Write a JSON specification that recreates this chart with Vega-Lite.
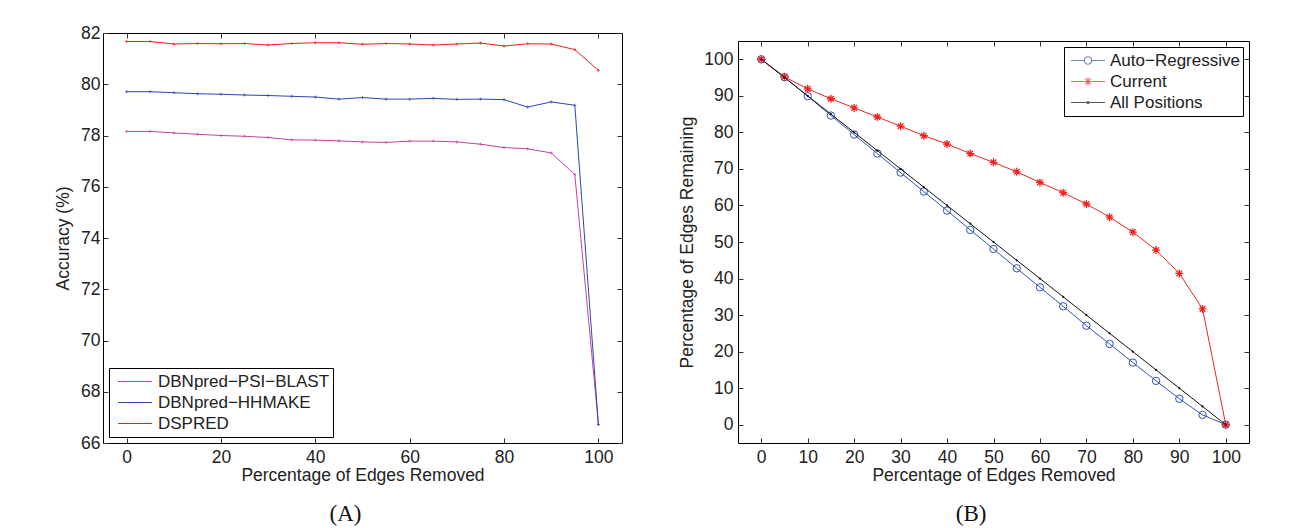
{
  "$schema": "https://vega.github.io/schema/vega-lite/v6.json",
  "background": "white",
  "padding": {"left": 54, "top": 23, "right": 0, "bottom": 0},
  "spacing": 55,
  "resolve": {"scale": {"color": "independent", "shape": "independent"}, "legend": {"color": "independent", "shape": "independent"}},
  "config": {
    "font": "Liberation Sans",
    "view": {"stroke": "#000", "strokeWidth": 1},
    "axis": {
      "domain": false, "grid": false, "tickSize": -5, "tickColor": "#333", "tickWidth": 1,
      "labelFont": "Liberation Sans", "labelFontSize": 17.5, "labelColor": "#222",
      "titleFont": "Liberation Sans", "titleFontSize": 17.5, "titleFontWeight": "normal", "titleColor": "#222",
      "labelOverlap": false, "labelFlush": false
    },
    "legend": {
      "labelFont": "Liberation Sans", "labelFontSize": 17, "labelColor": "#222",
      "strokeColor": "#000", "fillColor": "#fff"
    },
    "title": {"font": "Liberation Serif", "fontSize": 23, "fontWeight": "normal", "color": "#111"}
  },
  "datasets": {
    "acc": [
      {"pct": 0, "method": "DBNpred−PSI−BLAST", "acc": 78.16},
      {"pct": 5, "method": "DBNpred−PSI−BLAST", "acc": 78.16},
      {"pct": 10, "method": "DBNpred−PSI−BLAST", "acc": 78.10},
      {"pct": 15, "method": "DBNpred−PSI−BLAST", "acc": 78.05},
      {"pct": 20, "method": "DBNpred−PSI−BLAST", "acc": 78.00},
      {"pct": 25, "method": "DBNpred−PSI−BLAST", "acc": 77.97},
      {"pct": 30, "method": "DBNpred−PSI−BLAST", "acc": 77.92},
      {"pct": 35, "method": "DBNpred−PSI−BLAST", "acc": 77.83},
      {"pct": 40, "method": "DBNpred−PSI−BLAST", "acc": 77.82},
      {"pct": 45, "method": "DBNpred−PSI−BLAST", "acc": 77.79},
      {"pct": 50, "method": "DBNpred−PSI−BLAST", "acc": 77.75},
      {"pct": 55, "method": "DBNpred−PSI−BLAST", "acc": 77.73},
      {"pct": 60, "method": "DBNpred−PSI−BLAST", "acc": 77.78},
      {"pct": 65, "method": "DBNpred−PSI−BLAST", "acc": 77.78},
      {"pct": 70, "method": "DBNpred−PSI−BLAST", "acc": 77.75},
      {"pct": 75, "method": "DBNpred−PSI−BLAST", "acc": 77.66},
      {"pct": 80, "method": "DBNpred−PSI−BLAST", "acc": 77.53},
      {"pct": 85, "method": "DBNpred−PSI−BLAST", "acc": 77.48},
      {"pct": 90, "method": "DBNpred−PSI−BLAST", "acc": 77.32},
      {"pct": 95, "method": "DBNpred−PSI−BLAST", "acc": 76.48},
      {"pct": 100, "method": "DBNpred−PSI−BLAST", "acc": 66.73},
      {"pct": 0, "method": "DBNpred−HHMAKE", "acc": 79.71},
      {"pct": 5, "method": "DBNpred−HHMAKE", "acc": 79.71},
      {"pct": 10, "method": "DBNpred−HHMAKE", "acc": 79.67},
      {"pct": 15, "method": "DBNpred−HHMAKE", "acc": 79.63},
      {"pct": 20, "method": "DBNpred−HHMAKE", "acc": 79.61},
      {"pct": 25, "method": "DBNpred−HHMAKE", "acc": 79.58},
      {"pct": 30, "method": "DBNpred−HHMAKE", "acc": 79.56},
      {"pct": 35, "method": "DBNpred−HHMAKE", "acc": 79.53},
      {"pct": 40, "method": "DBNpred−HHMAKE", "acc": 79.50},
      {"pct": 45, "method": "DBNpred−HHMAKE", "acc": 79.42},
      {"pct": 50, "method": "DBNpred−HHMAKE", "acc": 79.48},
      {"pct": 55, "method": "DBNpred−HHMAKE", "acc": 79.42},
      {"pct": 60, "method": "DBNpred−HHMAKE", "acc": 79.42},
      {"pct": 65, "method": "DBNpred−HHMAKE", "acc": 79.45},
      {"pct": 70, "method": "DBNpred−HHMAKE", "acc": 79.41},
      {"pct": 75, "method": "DBNpred−HHMAKE", "acc": 79.42},
      {"pct": 80, "method": "DBNpred−HHMAKE", "acc": 79.40},
      {"pct": 85, "method": "DBNpred−HHMAKE", "acc": 79.11},
      {"pct": 90, "method": "DBNpred−HHMAKE", "acc": 79.31},
      {"pct": 95, "method": "DBNpred−HHMAKE", "acc": 79.18},
      {"pct": 100, "method": "DBNpred−HHMAKE", "acc": 66.72},
      {"pct": 0, "method": "DSPRED", "acc": 81.67},
      {"pct": 5, "method": "DSPRED", "acc": 81.67},
      {"pct": 10, "method": "DSPRED", "acc": 81.57},
      {"pct": 15, "method": "DSPRED", "acc": 81.59},
      {"pct": 20, "method": "DSPRED", "acc": 81.58},
      {"pct": 25, "method": "DSPRED", "acc": 81.59},
      {"pct": 30, "method": "DSPRED", "acc": 81.53},
      {"pct": 35, "method": "DSPRED", "acc": 81.59},
      {"pct": 40, "method": "DSPRED", "acc": 81.62},
      {"pct": 45, "method": "DSPRED", "acc": 81.62},
      {"pct": 50, "method": "DSPRED", "acc": 81.56},
      {"pct": 55, "method": "DSPRED", "acc": 81.59},
      {"pct": 60, "method": "DSPRED", "acc": 81.57},
      {"pct": 65, "method": "DSPRED", "acc": 81.53},
      {"pct": 70, "method": "DSPRED", "acc": 81.57},
      {"pct": 75, "method": "DSPRED", "acc": 81.61},
      {"pct": 80, "method": "DSPRED", "acc": 81.49},
      {"pct": 85, "method": "DSPRED", "acc": 81.58},
      {"pct": 90, "method": "DSPRED", "acc": 81.57},
      {"pct": 95, "method": "DSPRED", "acc": 81.35},
      {"pct": 100, "method": "DSPRED", "acc": 80.54}
    ],
    "rem": [
      {"pct": 0, "series": "Auto−Regressive", "val": 100},
      {"pct": 5, "series": "Auto−Regressive", "val": 95.1},
      {"pct": 10, "series": "Auto−Regressive", "val": 89.9},
      {"pct": 15, "series": "Auto−Regressive", "val": 84.6},
      {"pct": 20, "series": "Auto−Regressive", "val": 79.4},
      {"pct": 25, "series": "Auto−Regressive", "val": 74.2},
      {"pct": 30, "series": "Auto−Regressive", "val": 69.0},
      {"pct": 35, "series": "Auto−Regressive", "val": 63.8},
      {"pct": 40, "series": "Auto−Regressive", "val": 58.6},
      {"pct": 45, "series": "Auto−Regressive", "val": 53.3},
      {"pct": 50, "series": "Auto−Regressive", "val": 48.1},
      {"pct": 55, "series": "Auto−Regressive", "val": 42.8},
      {"pct": 60, "series": "Auto−Regressive", "val": 37.6},
      {"pct": 65, "series": "Auto−Regressive", "val": 32.4},
      {"pct": 70, "series": "Auto−Regressive", "val": 27.1},
      {"pct": 75, "series": "Auto−Regressive", "val": 22.1},
      {"pct": 80, "series": "Auto−Regressive", "val": 17.0},
      {"pct": 85, "series": "Auto−Regressive", "val": 12.0},
      {"pct": 90, "series": "Auto−Regressive", "val": 7.1},
      {"pct": 95, "series": "Auto−Regressive", "val": 2.7},
      {"pct": 100, "series": "Auto−Regressive", "val": 0},
      {"pct": 0, "series": "Current", "val": 100},
      {"pct": 5, "series": "Current", "val": 95.2},
      {"pct": 10, "series": "Current", "val": 91.9},
      {"pct": 15, "series": "Current", "val": 89.2},
      {"pct": 20, "series": "Current", "val": 86.7},
      {"pct": 25, "series": "Current", "val": 84.2},
      {"pct": 30, "series": "Current", "val": 81.7},
      {"pct": 35, "series": "Current", "val": 79.1},
      {"pct": 40, "series": "Current", "val": 76.8},
      {"pct": 45, "series": "Current", "val": 74.2},
      {"pct": 50, "series": "Current", "val": 71.8},
      {"pct": 55, "series": "Current", "val": 69.2},
      {"pct": 60, "series": "Current", "val": 66.3},
      {"pct": 65, "series": "Current", "val": 63.5},
      {"pct": 70, "series": "Current", "val": 60.4},
      {"pct": 75, "series": "Current", "val": 56.8},
      {"pct": 80, "series": "Current", "val": 52.7},
      {"pct": 85, "series": "Current", "val": 47.8},
      {"pct": 90, "series": "Current", "val": 41.4},
      {"pct": 95, "series": "Current", "val": 31.7},
      {"pct": 100, "series": "Current", "val": 0},
      {"pct": 0, "series": "All Positions", "val": 100},
      {"pct": 5, "series": "All Positions", "val": 95},
      {"pct": 10, "series": "All Positions", "val": 90},
      {"pct": 15, "series": "All Positions", "val": 85},
      {"pct": 20, "series": "All Positions", "val": 80},
      {"pct": 25, "series": "All Positions", "val": 75},
      {"pct": 30, "series": "All Positions", "val": 70},
      {"pct": 35, "series": "All Positions", "val": 65},
      {"pct": 40, "series": "All Positions", "val": 60},
      {"pct": 45, "series": "All Positions", "val": 55},
      {"pct": 50, "series": "All Positions", "val": 50},
      {"pct": 55, "series": "All Positions", "val": 45},
      {"pct": 60, "series": "All Positions", "val": 40},
      {"pct": 65, "series": "All Positions", "val": 35},
      {"pct": 70, "series": "All Positions", "val": 30},
      {"pct": 75, "series": "All Positions", "val": 25},
      {"pct": 80, "series": "All Positions", "val": 20},
      {"pct": 85, "series": "All Positions", "val": 15},
      {"pct": 90, "series": "All Positions", "val": 10},
      {"pct": 95, "series": "All Positions", "val": 5},
      {"pct": 100, "series": "All Positions", "val": 0}
    ]
  },
  "hconcat": [
    {
      "width": 519,
      "height": 410,
      "data": {"name": "acc"},
      "title": {"text": "(A)", "orient": "bottom", "anchor": "middle", "frame": "bounds", "dx": 7, "offset": 19},
      "resolve": {"axis": {"x": "independent", "y": "independent"}},
      "layer": [
        {
          "mark": {"type": "line", "strokeWidth": 1},
          "encoding": {
            "x": {"field": "pct", "type": "quantitative", "scale": {"domain": [-5, 105], "nice": false, "zero": false},
                  "axis": {"orient": "bottom", "values": [0, 20, 40, 60, 80, 100], "title": "Percentage of Edges Removed", "labelPadding": 10, "titlePadding": 1}},
            "y": {"field": "acc", "type": "quantitative", "scale": {"domain": [66, 82], "nice": false, "zero": false},
                  "axis": {"orient": "left", "values": [66, 68, 70, 72, 74, 76, 78, 80, 82], "title": "Accuracy (%)", "labelPadding": 8, "titlePadding": 8}},
            "color": {"field": "method", "type": "nominal",
                      "scale": {"domain": ["DBNpred−PSI−BLAST", "DBNpred−HHMAKE", "DSPRED"], "range": ["#c2409f", "#2a48b0", "#f01c1c"]},
                      "legend": {"title": null, "orient": "bottom-left", "offset": 6, "padding": 3, "symbolType": "stroke", "symbolSize": 1156, "symbolStrokeWidth": 1.2, "symbolOffset": 5, "labelOffset": 5, "rowPadding": 0, "clipHeight": 21, "labelLimit": 300}}
          }
        },
        {
          "mark": {"type": "point", "shape": "M-1,0L1,0M0,-1L0,1", "size": 9, "strokeWidth": 1, "filled": false},
          "encoding": {
            "x": {"field": "pct", "type": "quantitative", "axis": null},
            "y": {"field": "acc", "type": "quantitative", "axis": null},
            "color": {"field": "method", "type": "nominal", "legend": null}
          }
        },
        {
          "mark": {"type": "point", "opacity": 0},
          "encoding": {
            "x": {"field": "pct", "type": "quantitative", "axis": {"orient": "top", "values": [0, 20, 40, 60, 80, 100], "labels": false, "title": null}},
            "y": {"field": "acc", "type": "quantitative", "axis": {"orient": "right", "values": [66, 68, 70, 72, 74, 76, 78, 80, 82], "labels": false, "title": null}}
          }
        }
      ]
    },
    {
      "spacing": 3,
      "resolve": {"scale": {"color": "independent", "shape": "independent"}, "legend": {"color": "independent", "shape": "independent"}},
      "vconcat": [
        {
          "width": 511,
          "height": 1,
          "data": {"values": [{"a": 0}]},
          "view": {"stroke": null},
          "mark": {"type": "point", "opacity": 0},
          "encoding": {}
        },
        {
          "width": 511,
          "height": 402,
          "data": {"name": "rem"},
          "title": {"text": "(B)", "orient": "bottom", "anchor": "middle", "frame": "bounds", "dx": 7, "offset": 19},
          "resolve": {"axis": {"x": "independent", "y": "independent"}},
          "layer": [
            {
              "transform": [{"filter": "datum.series === 'Auto−Regressive'"}],
              "mark": {"type": "line", "strokeWidth": 1, "color": "#3152b8", "point": {"shape": "circle", "size": 55, "strokeWidth": 1, "filled": false, "color": "#3152b8"}},
              "encoding": {
                "x": {"field": "pct", "type": "quantitative", "scale": {"domain": [-5, 105], "nice": false, "zero": false},
                      "axis": {"orient": "bottom", "values": [0, 10, 20, 30, 40, 50, 60, 70, 80, 90, 100], "title": "Percentage of Edges Removed", "labelPadding": 10, "titlePadding": 1}},
                "y": {"field": "val", "type": "quantitative", "scale": {"domain": [-5, 105], "nice": false, "zero": false},
                      "axis": {"orient": "left", "values": [0, 10, 20, 30, 40, 50, 60, 70, 80, 90, 100], "title": "Percentage of Edges Remaining", "labelPadding": 10, "titlePadding": 7}}
              }
            },
            {
              "transform": [{"filter": "datum.series === 'Current'"}],
              "mark": {"type": "line", "strokeWidth": 1, "color": "#ee2424", "point": {"shape": "M-1,0L1,0M0,-1L0,1M-0.7,-0.7L0.7,0.7M-0.7,0.7L0.7,-0.7", "size": 64, "strokeWidth": 1.3, "filled": false, "color": "#ee2424"}},
              "encoding": {
                "x": {"field": "pct", "type": "quantitative", "axis": null},
                "y": {"field": "val", "type": "quantitative", "axis": null}
              }
            },
            {
              "transform": [{"filter": "datum.series === 'All Positions'"}],
              "mark": {"type": "line", "strokeWidth": 1, "color": "#111111", "point": {"shape": "circle", "size": 5, "filled": true, "color": "#111111"}},
              "encoding": {
                "x": {"field": "pct", "type": "quantitative", "axis": null},
                "y": {"field": "val", "type": "quantitative", "axis": null}
              }
            },
            {
              "mark": {"type": "point", "size": 0, "filled": false, "strokeWidth": 1.2},
              "encoding": {
                "x": {"field": "pct", "type": "quantitative", "axis": {"orient": "top", "values": [0, 10, 20, 30, 40, 50, 60, 70, 80, 90, 100], "labels": false, "title": null}},
                "y": {"field": "val", "type": "quantitative", "axis": {"orient": "right", "values": [0, 10, 20, 30, 40, 50, 60, 70, 80, 90, 100], "labels": false, "title": null}},
                "color": {"field": "series", "type": "nominal",
                          "scale": {"domain": ["Auto−Regressive", "Current", "All Positions"], "range": ["#3152b8", "#ee2424", "#111111"]},
                          "legend": {"title": null, "orient": "top-right", "offset": 6, "padding": 3, "symbolSize": 1156, "symbolStrokeWidth": 1.2, "symbolFillColor": "transparent", "symbolOffset": 3, "labelOffset": 4, "rowPadding": 0, "clipHeight": 21}},
                "shape": {"field": "series", "type": "nominal",
                          "scale": {"domain": ["Auto−Regressive", "Current", "All Positions"],
                                    "range": ["M-1,0L-0.22,0M0.22,0L1,0M0.22,0A0.22,0.22,0,1,1,-0.22,0A0.22,0.22,0,1,1,0.22,0Z",
                                              "M-1,0L1,0M0,-0.235L0,0.235M-0.166,-0.166L0.166,0.166M-0.166,0.166L0.166,-0.166",
                                              "M-1,0L1,0M-0.06,0A0.06,0.06,0,1,1,0.06,0A0.06,0.06,0,1,1,-0.06,0"]},
                          "legend": {"title": null, "orient": "top-right", "offset": 6, "padding": 3, "symbolSize": 1156, "symbolStrokeWidth": 1.2, "symbolFillColor": "transparent", "symbolOffset": 3, "labelOffset": 4, "rowPadding": 0, "clipHeight": 21}}
              }
            }
          ]
        }
      ]
    }
  ]
}
